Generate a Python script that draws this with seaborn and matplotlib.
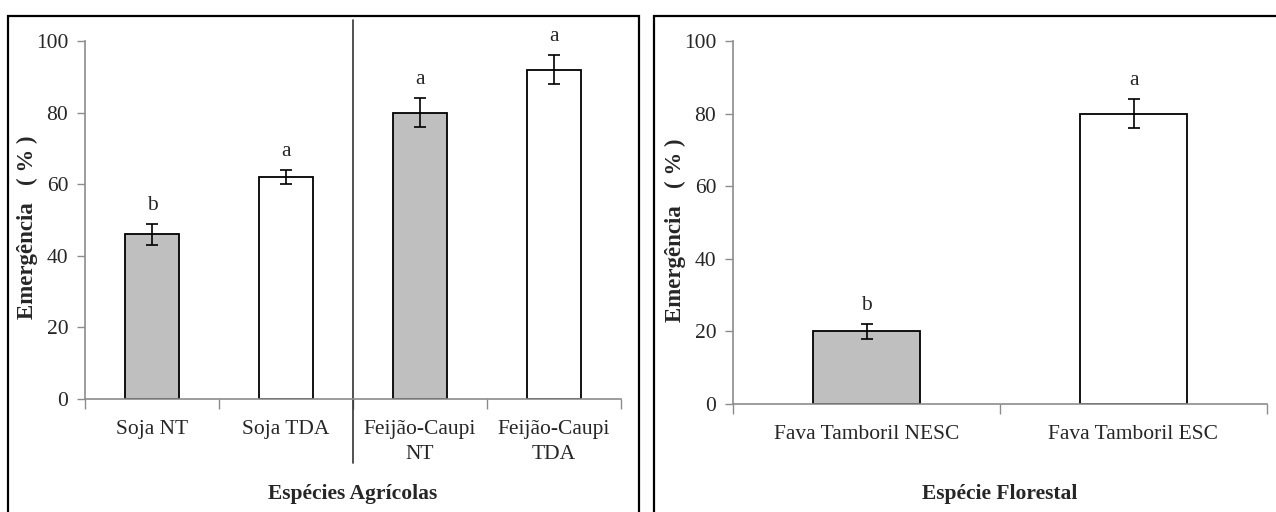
import matplotlib
matplotlib.use('Agg')
import matplotlib.pyplot as plt
import seaborn as sns
import pandas as pd
from matplotlib.patches import Rectangle
from matplotlib.ticker import FixedLocator

# Data
agri_labels = ['Soja NT', 'Soja TDA', 'Feijão-Caupi\nNT', 'Feijão-Caupi\nTDA']
agri_values = [46, 62, 80, 92]
agri_errors = [3, 2, 4, 4]
agri_letters = ['b', 'a', 'a', 'a']

flor_labels = ['Fava Tamboril NESC', 'Fava Tamboril ESC']
flor_values = [20, 80]
flor_errors = [2, 4]
flor_letters = ['b', 'a']

y_ticks = [0, 20, 40, 60, 80, 100]

sns.set_style('white')
plt.rcParams['font.family'] = ['Liberation Serif', 'DejaVu Serif']

FS = 15.5
GREY = '#bfbfbf'
AXCOL = '#8c8c8c'

fig = plt.figure(figsize=(12.76, 5.12), dpi=100)

# panel frames
fig.patches.append(Rectangle((8 / 1276, -0.1), (639 - 8) / 1276, 1.1 - 16 / 512,
                             transform=fig.transFigure, fill=False,
                             edgecolor='black', linewidth=1.6, zorder=0))
fig.patches.append(Rectangle((654 / 1276, -0.1), 0.6, 1.1 - 16 / 512,
                             transform=fig.transFigure, fill=False,
                             edgecolor='black', linewidth=1.6, zorder=0))

ax1 = fig.add_axes([85 / 1276, 1 - 399 / 512, 536 / 1276, 358 / 512])
ax2 = fig.add_axes([733 / 1276, 1 - 404 / 512, 534 / 1276, 363 / 512])


def draw_panel(ax, labels, values, errors, letters, xlabel, xlab_y):
    df = pd.DataFrame({'cat': labels, 'val': values})
    colors = [GREY if i % 2 == 0 else 'white' for i in range(len(labels))]
    sns.barplot(data=df, x='cat', y='val', hue='cat', palette=colors,
                legend=False, width=0.4, edgecolor='black', linewidth=1.3,
                saturation=1, ax=ax)
    xs = list(range(len(labels)))
    ax.errorbar(xs, values, yerr=errors, fmt='none', ecolor='black',
                elinewidth=1.2, capsize=4, capthick=1.2, zorder=5)
    for x, v, e, l in zip(xs, values, errors, letters):
        ax.text(x, v + e + 2.5, l, ha='center', va='bottom', fontsize=FS)

    ax.set_ylim(0, 100)
    ax.set_xlim(-0.5, len(labels) - 0.5)
    ax.set_yticks(y_ticks)
    ax.set_xticks(xs)
    ax.set_xticklabels(labels, fontsize=FS, linespacing=1.45)
    ax.xaxis.set_minor_locator(FixedLocator([i - 0.5 for i in range(len(labels) + 1)]))
    ax.tick_params(axis='x', which='major', length=0, pad=15)
    ax.tick_params(axis='x', which='minor', length=7, width=1, color=AXCOL,
                   direction='out', bottom=True)
    ax.tick_params(axis='y', length=6, width=1, color=AXCOL, direction='out',
                   left=True, labelsize=FS, pad=6)

    for s in ['top', 'right']:
        ax.spines[s].set_visible(False)
    for s in ['left', 'bottom']:
        ax.spines[s].set_color(AXCOL)
        ax.spines[s].set_linewidth(1.2)

    ax.set_ylabel('Emergência   ( % )', fontsize=16.5, fontweight='bold')
    ax.yaxis.set_label_coords(-0.088, 0.48)
    ax.set_xlabel(xlabel, fontsize=FS, fontweight='bold')
    ax.xaxis.set_label_coords(0.5, xlab_y)
    ax.set_facecolor('white')


draw_panel(ax1, agri_labels, agri_values, agri_errors, agri_letters,
           'Espécies Agrícolas', -0.237)
draw_panel(ax2, flor_labels, flor_values, flor_errors, flor_letters,
           'Espécie Florestal', -0.22)

# separator between the two crops
ax1.axvline(1.5, ymin=-0.179, ymax=1.059, color='#333333', linewidth=1.2,
            clip_on=False)

fig.savefig('out.png', dpi=100, facecolor='white')
